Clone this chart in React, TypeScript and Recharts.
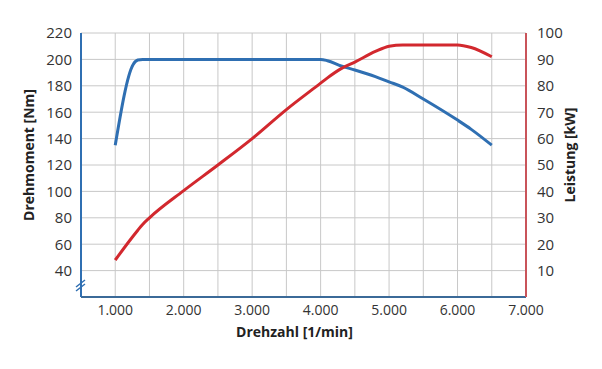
import { LineChart, Line, XAxis, YAxis, CartesianGrid } from "recharts";

const rpm = [1000, 1260, 1330, 1400, 1500, 2000, 2500, 3000, 3500, 4000, 4100, 4300, 4500, 4800, 5000, 5200, 5500, 6000, 6200, 6500];
const torque = [135, 196, 199.5, 200, 200, 200, 200, 200, 200, 200, 199, 195, 192, 187, 183, 179, 170, 154, 147, 135];
const power = [14, 23, 25.3, 27.5, 30, 40.3, 50, 60, 71, 81, 83, 86.5, 89, 93, 95, 95.5, 95.5, 95.5, 94.5, 91];

const xTicks = [1000, 1500, 2000, 2500, 3000, 3500, 4000, 4500, 5000, 5500, 6000, 6500, 7000];
const leftTicks = [40, 60, 80, 100, 120, 140, 160, 180, 200, 220];
const rightTicks = [10, 20, 30, 40, 50, 60, 70, 80, 90, 100];

const data = rpm.map((r, i) => ({ rpm: r, torque: torque[i], power: power[i] }));

const BLUE = "#2f6fb2";
const RED = "#d2282e";
const FONT = "'Open Sans', sans-serif";

const fmt = (v: number) => (v % 1000 === 0 ? `${v / 1000}.000` : "");

const SideLabel = ({ viewBox, text, posX }: any) => {
  const cy = viewBox.y + viewBox.height / 2 - 10;
  return (
    <text
      x={posX}
      y={cy}
      transform={`rotate(-90 ${posX} ${cy})`}
      textAnchor="middle"
      dominantBaseline="central"
      fill="#222"
      fontSize={14}
      fontWeight={700}
      fontFamily={FONT}
    >
      {text}
    </text>
  );
};

export default function App() {
  return (
    <div style={{ position: "absolute", left: 0, top: 0, width: 602, height: 369, background: "#fff" }}>
      <LineChart
        width={602}
        height={369}
        data={data}
        margin={{ top: 33, right: 0, bottom: 32, left: 0 }}
        style={{ fontFamily: FONT }}
      >
        <CartesianGrid yAxisId="left" stroke="#c8c8c8" strokeWidth={1} />
        <XAxis
          dataKey="rpm"
          type="number"
          domain={[500, 7000]}
          ticks={xTicks}
          tickFormatter={fmt}
          interval={0}
          tickSize={0}
          tickMargin={8}
          height={40}
          stroke="#3b6a98"
          strokeWidth={2}
          tick={{ fill: "#333", fontSize: 14 }}
          label={{ value: "Drehzahl [1/min]", position: "insideBottom", offset: 0, dx: -9, fill: "#222", fontSize: 14, fontWeight: 700 }}
        />
        <YAxis
          yAxisId="left"
          domain={[20, 220]}
          ticks={leftTicks}
          interval={0}
          width={81}
          tickSize={0}
          tickMargin={9}
          stroke={BLUE}
          strokeWidth={2}
          tick={{ fill: "#333", fontSize: 15 }}
          label={<SideLabel text="Drehmoment [Nm]" posX={28} />}
        />
        <YAxis
          yAxisId="right"
          orientation="right"
          domain={[0, 100]}
          ticks={rightTicks}
          interval={0}
          width={76}
          tickSize={0}
          tickMargin={11}
          stroke="#c9545a"
          strokeWidth={2}
          tick={{ fill: "#333", fontSize: 15 }}
          label={<SideLabel text="Leistung [kW]" posX={569} />}
        />
        <Line yAxisId="left" type="monotone" dataKey="torque" stroke={BLUE} strokeWidth={3} dot={false} isAnimationActive={false} />
        <Line yAxisId="right" type="monotone" dataKey="power" stroke={RED} strokeWidth={3} dot={false} isAnimationActive={false} />
      </LineChart>
      <svg width={602} height={369} style={{ position: "absolute", left: 0, top: 0, pointerEvents: "none" }}>
        <line x1={76} y1={287} x2={85} y2={280} stroke={BLUE} strokeWidth={1.5} />
        <line x1={76} y1={291} x2={85} y2={284} stroke={BLUE} strokeWidth={1.5} />
      </svg>
    </div>
  );
}
